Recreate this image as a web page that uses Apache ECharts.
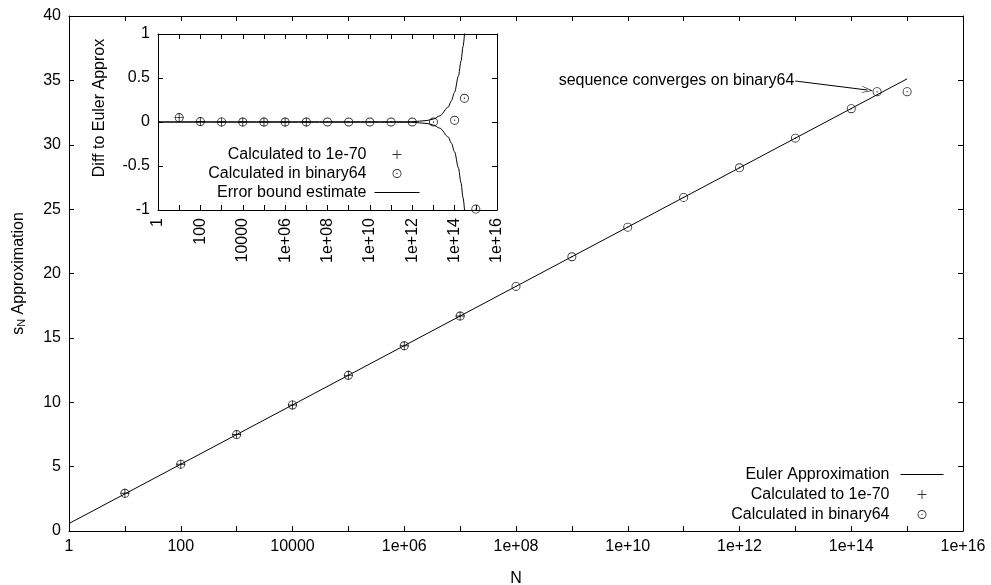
<!DOCTYPE html>
<html>
<head>
<meta charset="utf-8">
<script src="https://cdn.jsdelivr.net/npm/echarts@6/dist/echarts.min.js"></script>
<style>
  html, body { margin: 0; padding: 0; background: #fff; }
  #chart { width: 991px; height: 585px; }
</style>
</head>
<body>
<div id="chart"></div>
<script>
// partial sums of the harmonic series, N on a log scale
const nPrecise = [10, 100, 1e3, 1e4, 1e5, 1e6, 1e7];
const sPrecise = [2.93, 5.19, 7.49, 9.79, 12.09, 14.39, 16.70];
const nBinary = [10, 100, 1e3, 1e4, 1e5, 1e6, 1e7, 1e8, 1e9, 1e10, 1e11, 1e12, 1e13, 1e14, 2.9e14, 1e15];
const sBinary = [2.93, 5.19, 7.49, 9.79, 12.09, 14.39, 16.70, 19.00, 21.30, 23.60, 25.91, 28.21, 30.51, 32.80, 34.12, 34.12];
const nEuler = [1, 1e15];
const sEuler = [0.58, 35.12];

// inset: difference to the Euler approximation
const dPrecise = [0.05, 0.005, 0.0005, 0.00005, 0, 0, 0];
const dBinary = [0.05, 0.005, 0.0005, 0.00005, 0, 0, 0, 0, 0, 0, 0, 0, 0, 0.02, 0.27, -0.99];
const nBound = [1, 1e12, 5e12, 1e13, 2e13, 5e13, 7e13, 1e14, 1.5e14, 2e14, 2.5e14, 3e14];
const boundUpper = [0, 0.003, 0.017, 0.034, 0.07, 0.17, 0.24, 0.34, 0.52, 0.69, 0.86, 1.03];
const boundLower = [0, -0.003, -0.017, -0.034, -0.07, -0.17, -0.24, -0.34, -0.52, -0.69, -0.86, -1.03];

// annotation arrow
const noteText = 'sequence converges on binary64';
const noteFrom = [1e13, 34.95];
const noteTo = [1.95e14, 34.25];

const PLUS = 'path://M4.5,0H5.5V4.5H10V5.5H5.5V10H4.5V5.5H0V4.5H4.5Z';
const DOTCIRCLE = 'path://M5,0A5,5 0 1,1 5,10A5,5 0 1,1 5,0Z M5,1A4,4 0 1,0 5,9A4,4 0 1,0 5,1Z M5,4.2A0.8,0.8 0 1,1 5,5.8A0.8,0.8 0 1,1 5,4.2Z';
const ARROW = 'path://M5,0L10,12L9,12L5,2.5L1,12L0,12Z';

const FONT = 'Liberation Sans, Arial, sans-serif';
const black = '#000';

const pairs = (xs, ys) => xs.map((x, i) => [x, ys[i]]);

function powLabel(v) {
  const k = Math.round(Math.log10(v));
  if (k % 2) return '';
  if (k <= 4) return String(Math.pow(10, k));
  return '1e+' + (k < 10 ? '0' : '') + k;
}

const line = { show: true, onZero: false, lineStyle: { color: black, width: 1 } };
const tick = { show: true, inside: true, length: 5, lineStyle: { color: black, width: 1 } };
const lbl = { color: black, fontSize: 16, fontFamily: FONT, margin: 8 };

function xLog(grid, pos, label, extra) {
  return Object.assign({
    type: 'log', logBase: 10, gridIndex: grid, position: pos,
    min: 1, max: 1e16, interval: 1,
    axisLine: line, axisTick: tick, splitLine: { show: false },
    axisLabel: label ? Object.assign({ formatter: powLabel, showMinLabel: true, showMaxLabel: true }, lbl, label) : { show: false }
  }, extra || {});
}
function yVal(grid, pos, min, max, step, label, extra) {
  return Object.assign({
    type: 'value', gridIndex: grid, position: pos,
    min: min, max: max, interval: step,
    axisLine: line, axisTick: tick, splitLine: { show: false },
    axisLabel: label ? Object.assign({}, lbl, label) : { show: false }
  }, extra || {});
}

// legend entry for a line series: hide the dot ECharts puts on the line sample
const lineEntry = name => ({ name: name, itemStyle: { opacity: 0 } });

const chart = echarts.init(document.getElementById('chart'));

const option = {
  animation: false,
  backgroundColor: '#fff',
  textStyle: { fontFamily: FONT, color: black },
  grid: [
    { left: 69, top: 16, width: 894, height: 515, outerBoundsMode: 'none' },
    { left: 158, top: 34, width: 339, height: 176, outerBoundsMode: 'none' }
  ],
  xAxis: [
    xLog(0, 'bottom', {}, {
      name: 'N', nameLocation: 'middle', nameGap: 40,
      nameTextStyle: { fontSize: 16, color: black, fontFamily: FONT }
    }),
    xLog(0, 'top', null),
    xLog(1, 'bottom', { rotate: 90 }),
    xLog(1, 'top', null)
  ],
  yAxis: [
    yVal(0, 'left', 0, 40, 5, {}, {
      name: '{s|s}{sub|N}{t| Approximation}', nameLocation: 'middle', nameGap: 42, nameRotate: 90,
      nameTextStyle: {
        color: black, fontFamily: FONT,
        rich: {
          s: { fontSize: 16, fontFamily: FONT },
          sub: { fontSize: 11, fontFamily: FONT, verticalAlign: 'bottom', padding: [6, 0, 0, 0] },
          t: { fontSize: 16, fontFamily: FONT }
        }
      }
    }),
    yVal(0, 'right', 0, 40, 5, null),
    yVal(1, 'left', -1, 1, 0.5, {}, {
      name: 'Diff to Euler Approx', nameLocation: 'middle', nameGap: 50, nameRotate: 90,
      nameTextStyle: { fontSize: 16, color: black, fontFamily: FONT, padding: [0, 0, 0, 28] }
    }),
    yVal(1, 'right', -1, 1, 0.5, null)
  ],
  legend: [
    {
      data: [lineEntry('Euler Approximation'), 'Calculated to 1e-70', 'Calculated in binary64'],
      orient: 'vertical', align: 'right', right: 47, top: 466.5,
      itemWidth: 43, itemHeight: 9, itemGap: 4, padding: 0,
      selectedMode: false,
      lineStyle: { width: 1 },
      formatter: name => '{a|' + name + '}',
      textStyle: { color: black, fontSize: 16, fontFamily: FONT, rich: { a: { fontSize: 16, fontFamily: FONT, padding: [0, 6, 0, 0] } } }
    },
    {
      data: ['Calculated to 1e-70', 'Calculated in binary64', lineEntry('Error bound estimate')],
      orient: 'vertical', align: 'right', right: 571, top: 146.5,
      itemWidth: 45, itemHeight: 9, itemGap: 3, padding: 0,
      selectedMode: false,
      lineStyle: { width: 1 },
      formatter: name => '{a|' + name + '}',
      textStyle: { color: black, fontSize: 16, fontFamily: FONT, rich: { a: { fontSize: 16, fontFamily: FONT, padding: [0, 3, 0, 0] } } }
    }
  ],
  series: [
    {
      name: 'Euler Approximation', type: 'line', xAxisIndex: 0, yAxisIndex: 0,
      data: pairs(nEuler, sEuler), symbol: 'none',
      lineStyle: { color: black, width: 1 }, itemStyle: { color: black }
    },
    {
      name: 'Calculated in binary64', type: 'scatter', xAxisIndex: 0, yAxisIndex: 0,
      data: pairs(nBinary, sBinary), symbol: DOTCIRCLE, symbolSize: 9,
      itemStyle: { color: black },
      markLine: {
        silent: true, symbol: ['none', ARROW], symbolSize: [7, 11],
        lineStyle: { color: black, width: 1, type: 'solid' },
        label: { show: true, position: 'start', formatter: noteText, color: black, fontSize: 16, fontFamily: FONT, distance: 1 },
        emphasis: { disabled: true },
        data: [[{ coord: noteFrom }, { coord: noteTo }]]
      }
    },
    {
      name: 'Calculated to 1e-70', type: 'scatter', xAxisIndex: 0, yAxisIndex: 0,
      data: pairs(nPrecise, sPrecise), symbol: PLUS, symbolSize: 9,
      itemStyle: { color: black }
    },
    {
      name: 'Error bound estimate', type: 'line', xAxisIndex: 2, yAxisIndex: 2,
      data: pairs(nBound, boundUpper), symbol: 'none', smooth: 0.3, smoothMonotone: 'x',
      lineStyle: { color: black, width: 1 }, itemStyle: { color: black }
    },
    {
      name: 'Error bound estimate', type: 'line', xAxisIndex: 2, yAxisIndex: 2,
      data: pairs(nBound, boundLower), symbol: 'none', smooth: 0.3, smoothMonotone: 'x',
      lineStyle: { color: black, width: 1 }, itemStyle: { color: black }
    },
    {
      name: 'Calculated in binary64', type: 'scatter', xAxisIndex: 2, yAxisIndex: 2,
      data: pairs(nBinary, dBinary), symbol: DOTCIRCLE, symbolSize: 9,
      itemStyle: { color: black }
    },
    {
      name: 'Calculated to 1e-70', type: 'scatter', xAxisIndex: 2, yAxisIndex: 2,
      data: pairs(nPrecise, dPrecise), symbol: PLUS, symbolSize: 9,
      itemStyle: { color: black }
    }
  ]
};

chart.setOption(option);
</script>
</body>
</html>
